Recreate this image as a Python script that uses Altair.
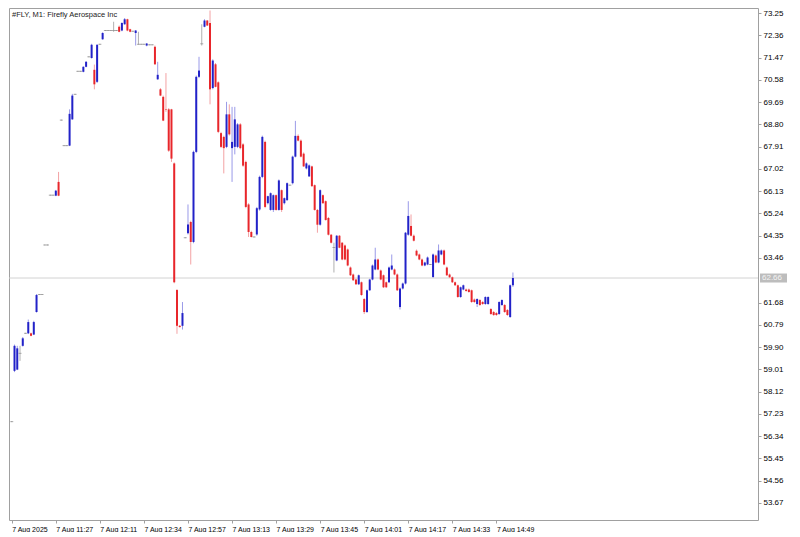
import altair as alt
import pandas as pd

# ---- candle data (M1 bars, #FLY, 7 Aug 2025) ----
opens = [56.92, 58.95, 59.00, 59.65, 59.95, 60.45, 60.45, 60.45, 60.40, 61.30,
         62.00, 62.00, 63.98, 63.98, 65.97, 65.97, 65.95, 66.50, 68.97, 67.95,
         67.95, 67.95, 69.00, 70.00, 70.92, 70.92, 70.90, 71.10, 71.50, 71.45,
         70.98, 70.50, 72.00, 72.20, 72.55, 72.55, 72.55, 72.55, 72.55, 72.70,
         72.55, 72.80, 73.00, 72.60, 72.52, 72.45, 72.00, 72.00, 72.00, 71.95,
         71.98, 71.98, 71.90, 70.60, 70.20, 69.90, 69.40, 69.40, 69.40, 67.24,
         62.18, 60.75, 60.75, 64.27, 64.45, 64.90, 64.10, 67.70, 70.70, 72.02,
         72.70, 72.95, 72.85, 70.25, 71.20, 70.48, 68.45, 68.30, 67.90, 69.20,
         67.85, 67.90, 67.90, 68.80, 68.00, 67.30, 65.60, 64.50, 64.30, 64.40,
         65.40, 66.70, 68.10, 65.65, 65.38, 65.38, 65.97, 65.38, 66.17, 65.65,
         65.77, 66.37, 66.45, 67.51, 68.34, 68.15, 67.63, 67.04, 66.72, 67.12,
         66.37, 65.38, 64.79, 65.97, 65.73, 65.06, 64.39, 63.88, 63.36, 64.35,
         64.07, 63.96, 63.80, 63.08, 62.80, 62.60, 62.41, 62.49, 61.82, 61.30,
         62.17, 62.60, 63.00, 63.40, 62.96, 62.77, 62.49, 62.49, 63.00, 63.00,
         62.80, 61.50, 62.24, 62.44, 64.39, 64.74, 64.35, 63.75, 63.60, 63.40,
         63.16, 63.20, 63.20, 62.70, 63.56, 63.28, 63.60, 63.76, 63.08, 62.80,
         62.69, 62.49, 62.37, 61.90, 62.20, 62.20, 62.20, 62.17, 61.80, 61.62,
         61.78, 61.70, 61.62, 61.62, 61.42, 61.30, 61.26, 61.22, 61.58, 61.58,
         61.38, 61.10, 62.37]
highs = [56.94, 60.00, 59.95, 59.95, 60.30, 60.47, 61.00, 60.48, 60.95, 62.02,
         62.02, 62.02, 64.00, 64.00, 65.99, 65.99, 66.18, 66.90, 68.99, 67.97,
         67.97, 69.40, 70.02, 70.02, 70.94, 70.94, 71.12, 71.33, 71.52, 72.02,
         71.19, 72.00, 72.02, 72.48, 72.57, 72.57, 72.57, 72.90, 72.57, 72.75,
         72.88, 73.05, 73.02, 72.62, 72.54, 72.57, 72.50, 72.02, 72.02, 72.05,
         72.00, 72.00, 71.95, 71.30, 70.25, 69.95, 70.85, 69.45, 69.42, 67.28,
         62.22, 60.78, 61.70, 64.29, 65.60, 64.95, 67.75, 70.75, 71.50, 72.80,
         73.00, 72.97, 73.35, 71.40, 71.25, 70.52, 68.50, 68.35, 69.70, 69.60,
         69.50, 69.50, 68.85, 68.85, 68.05, 67.35, 65.65, 64.55, 64.32, 65.50,
         66.75, 68.35, 68.15, 65.95, 66.08, 66.00, 66.00, 66.60, 66.20, 65.88,
         66.48, 66.39, 67.55, 68.94, 68.40, 68.20, 67.68, 67.28, 67.20, 67.15,
         66.40, 65.42, 66.20, 66.00, 65.76, 65.10, 64.42, 64.07, 64.38, 64.38,
         64.10, 64.00, 63.84, 63.12, 62.84, 62.64, 62.80, 62.52, 61.86, 62.20,
         62.63, 63.20, 63.87, 63.44, 63.00, 62.80, 62.52, 63.12, 63.60, 63.04,
         62.84, 62.28, 62.48, 64.50, 65.73, 65.20, 64.40, 63.80, 63.64, 63.44,
         63.31, 63.52, 63.22, 63.64, 63.60, 64.00, 63.80, 63.80, 63.12, 62.84,
         62.72, 62.52, 62.40, 62.32, 62.40, 62.24, 62.24, 62.20, 61.84, 61.85,
         61.82, 61.74, 61.93, 61.93, 61.46, 61.34, 61.30, 61.73, 61.81, 61.62,
         61.42, 62.40, 62.88]
lows = [56.90, 58.90, 58.98, 59.35, 59.92, 60.43, 60.42, 60.33, 60.38, 61.28,
        61.98, 61.98, 63.96, 63.96, 65.95, 65.95, 65.93, 65.93, 68.95, 67.93,
        67.93, 67.93, 68.98, 69.98, 70.90, 70.90, 70.88, 71.08, 71.48, 71.43,
        70.20, 70.45, 71.98, 72.18, 72.53, 72.53, 72.53, 72.50, 72.53, 72.48,
        72.52, 72.78, 72.52, 72.48, 72.50, 71.95, 71.98, 71.98, 71.98, 71.92,
        71.96, 71.96, 71.18, 70.58, 69.93, 68.93, 69.30, 67.70, 67.30, 62.45,
        60.43, 60.68, 60.60, 64.25, 64.40, 63.20, 64.05, 67.65, 70.65, 71.95,
        72.68, 72.73, 69.60, 70.20, 70.28, 68.45, 67.85, 66.84, 67.85, 68.35,
        66.50, 67.60, 67.85, 67.80, 67.10, 65.45, 64.30, 64.28, 64.28, 64.35,
        65.35, 66.65, 65.45, 65.60, 65.35, 65.30, 65.35, 65.35, 65.30, 65.60,
        65.75, 66.35, 66.40, 67.48, 68.12, 67.48, 67.10, 67.00, 66.70, 66.30,
        65.35, 64.47, 64.75, 65.62, 64.95, 64.36, 64.04, 62.88, 63.33, 63.85,
        63.37, 63.37, 63.13, 62.74, 62.54, 62.38, 62.38, 61.95, 61.22, 61.27,
        62.14, 62.57, 62.97, 62.97, 62.57, 62.26, 62.26, 62.46, 62.97, 62.77,
        62.14, 61.40, 62.20, 62.40, 64.35, 64.32, 64.12, 63.53, 63.37, 63.13,
        63.13, 63.17, 63.18, 62.66, 63.25, 63.25, 63.57, 63.17, 62.74, 62.66,
        62.46, 62.34, 61.87, 61.87, 62.17, 62.11, 62.07, 61.67, 61.67, 61.50,
        61.55, 61.59, 61.59, 61.59, 61.19, 61.15, 61.15, 61.19, 61.55, 61.27,
        61.15, 61.07, 62.30]
closes = [56.92, 59.95, 59.85, 59.65, 60.25, 60.45, 60.90, 60.35, 60.90, 61.98,
          62.00, 62.00, 63.98, 63.98, 65.97, 65.97, 66.15, 65.95, 68.97, 67.95,
          67.95, 69.22, 69.95, 70.00, 70.92, 70.92, 71.10, 71.30, 71.50, 71.98,
          70.40, 71.98, 72.00, 72.45, 72.55, 72.55, 72.55, 72.55, 72.55, 72.50,
          72.85, 73.00, 72.55, 72.50, 72.52, 72.55, 72.00, 72.00, 72.00, 72.03,
          71.98, 71.98, 71.20, 70.78, 69.95, 68.95, 69.38, 67.75, 67.43, 62.49,
          60.75, 60.70, 61.26, 64.27, 64.80, 64.10, 67.70, 70.70, 70.95, 72.02,
          72.95, 72.75, 70.20, 71.35, 70.30, 68.50, 67.90, 67.85, 69.20, 68.40,
          68.10, 69.00, 68.80, 67.85, 67.15, 65.50, 64.50, 64.30, 64.30, 65.45,
          66.70, 68.30, 65.50, 65.93, 66.05, 65.97, 65.38, 66.56, 65.38, 65.85,
          66.45, 66.37, 67.51, 68.34, 68.15, 67.51, 67.12, 67.24, 67.16, 66.33,
          65.38, 64.79, 66.17, 65.65, 64.98, 64.39, 64.07, 63.88, 64.35, 63.87,
          63.40, 63.40, 63.16, 62.77, 62.57, 62.41, 62.77, 61.98, 61.30, 62.17,
          62.60, 63.16, 63.40, 63.00, 62.60, 62.29, 62.29, 63.08, 63.16, 62.80,
          62.17, 62.24, 62.44, 64.47, 65.14, 64.35, 64.15, 63.56, 63.40, 63.16,
          63.28, 63.48, 63.20, 63.60, 63.28, 63.76, 63.76, 63.20, 62.77, 62.69,
          62.49, 62.37, 61.90, 62.29, 62.37, 62.14, 62.10, 61.70, 61.70, 61.82,
          61.58, 61.62, 61.90, 61.90, 61.22, 61.18, 61.18, 61.70, 61.78, 61.30,
          61.18, 62.37, 62.66]

tick_idx = [0, 16, 32, 48, 64, 80, 96, 112, 128, 144, 160, 176]
tick_text = ["7 Aug 2025", "7 Aug 11:27", "7 Aug 12:11", "7 Aug 12:34",
             "7 Aug 12:57", "7 Aug 13:13", "7 Aug 13:29", "7 Aug 13:45",
             "7 Aug 14:01", "7 Aug 14:17", "7 Aug 14:33", "7 Aug 14:49"]
price_ticks = [73.25, 72.36, 71.47, 70.58, 69.69, 68.80, 67.91, 67.02, 66.13,
               65.24, 64.35, 63.46, 62.57, 61.68, 60.79, 59.90, 59.01, 58.12,
               57.23, 56.34, 55.45, 54.56, 53.67]
hidden_tick = 62.57
bid_price = [62.66]
bid_text = ["62.66"]
chart_title = ["#FLY, M1:  Firefly Aerospace Inc"]

df = pd.DataFrame({"i": list(range(len(opens))), "o": opens, "h": highs,
                   "l": lows, "c": closes})

W, H = 749, 512
FONT = "Liberation Sans"

label_expr = ("[" + ",".join("'" + t + "'" for t in tick_text) + "][indexof(["
              + ",".join(str(v) for v in tick_idx) + "], datum.value)]")

xs = alt.Scale(domain=[-1, 271], nice=False, zero=False)
ys = alt.Scale(domain=[52.99, 73.45], nice=False, zero=False)

x_axis = alt.Axis(values=tick_idx, labelExpr=label_expr, title=None,
                  labelAlign="left", labelFontSize=7, labelFont=FONT,
                  labelColor="#000000", labelPadding=2, tickSize=3,
                  tickColor="#a0a0a0", domain=False, grid=False,
                  labelOverlap=False, labelFlush=False)
y_axis = alt.Axis(values=[p for p in price_ticks if p != hidden_tick],
                  orient="right", title=None, format=".2f", labelFontSize=8,
                  labelFont=FONT, labelColor="#000000", labelPadding=2,
                  tickSize=3, tickColor="#a0a0a0", domain=False, grid=False,
                  labelOverlap=False, labelFlush=False)

X = alt.X("i:Q", scale=xs, axis=x_axis)

base = alt.Chart(df).transform_calculate(
    wcol="datum.c > datum.o ? '#9a9ae8' : (datum.c < datum.o ? '#f3a2a4' : '#b0b0b0')",
    bcol="datum.c > datum.o ? '#2222c8' : (datum.c < datum.o ? '#e8262b' : '#8a8a8a')",
)

wicks = base.mark_rule(strokeWidth=1).encode(
    x=X,
    y=alt.Y("l:Q", scale=ys, axis=y_axis),
    y2="h:Q",
    color=alt.Color("wcol:N", scale=None),
)
bodies = base.mark_rule(strokeWidth=2, strokeCap="butt").encode(
    x=X,
    y=alt.Y("o:Q", scale=ys, axis=y_axis),
    y2="c:Q",
    color=alt.Color("bcol:N", scale=None),
)
dojis = base.transform_filter("datum.o == datum.c").mark_tick(
    orient="horizontal", size=3, thickness=1, color="#8a8a8a"
).encode(x=X, y=alt.Y("c:Q", scale=ys, axis=y_axis))

bid_df = pd.DataFrame({"p": bid_price, "t": bid_text})
bid_line = alt.Chart(bid_df).mark_rule(color="#d2d2d2", strokeWidth=1).encode(
    y=alt.Y("p:Q", scale=ys, axis=y_axis)
)
bid_box = alt.Chart(bid_df).mark_rule(color="#bdbdbd", strokeWidth=9,
                                      strokeCap="butt").encode(
    y=alt.Y("p:Q", scale=ys, axis=y_axis),
    x=alt.value(W + 2), x2=alt.value(W + 29),
)
bid_label = alt.Chart(bid_df).mark_text(align="left", baseline="middle",
                                        fontSize=8, font=FONT,
                                        color="#f4f4f4").encode(
    y=alt.Y("p:Q", scale=ys, axis=y_axis),
    x=alt.value(W + 4), text="t:N",
)

title_df = pd.DataFrame({"t": chart_title})
title = alt.Chart(title_df).mark_text(align="left", baseline="middle",
                                      fontSize=7.5, font=FONT,
                                      color="#222222").encode(
    x=alt.value(3), y=alt.value(7), text="t:N"
)

chart = alt.layer(bid_line, wicks, bodies, dojis, bid_box, bid_label, title).properties(
    width=W, height=H, padding={"left": 0, "top": 0, "right": 0, "bottom": 0},
    background="#ffffff",
).configure_view(stroke="#a0a0a0", strokeWidth=1)

chart.save("out.html", embed_options={"renderer": "svg", "actions": False})
